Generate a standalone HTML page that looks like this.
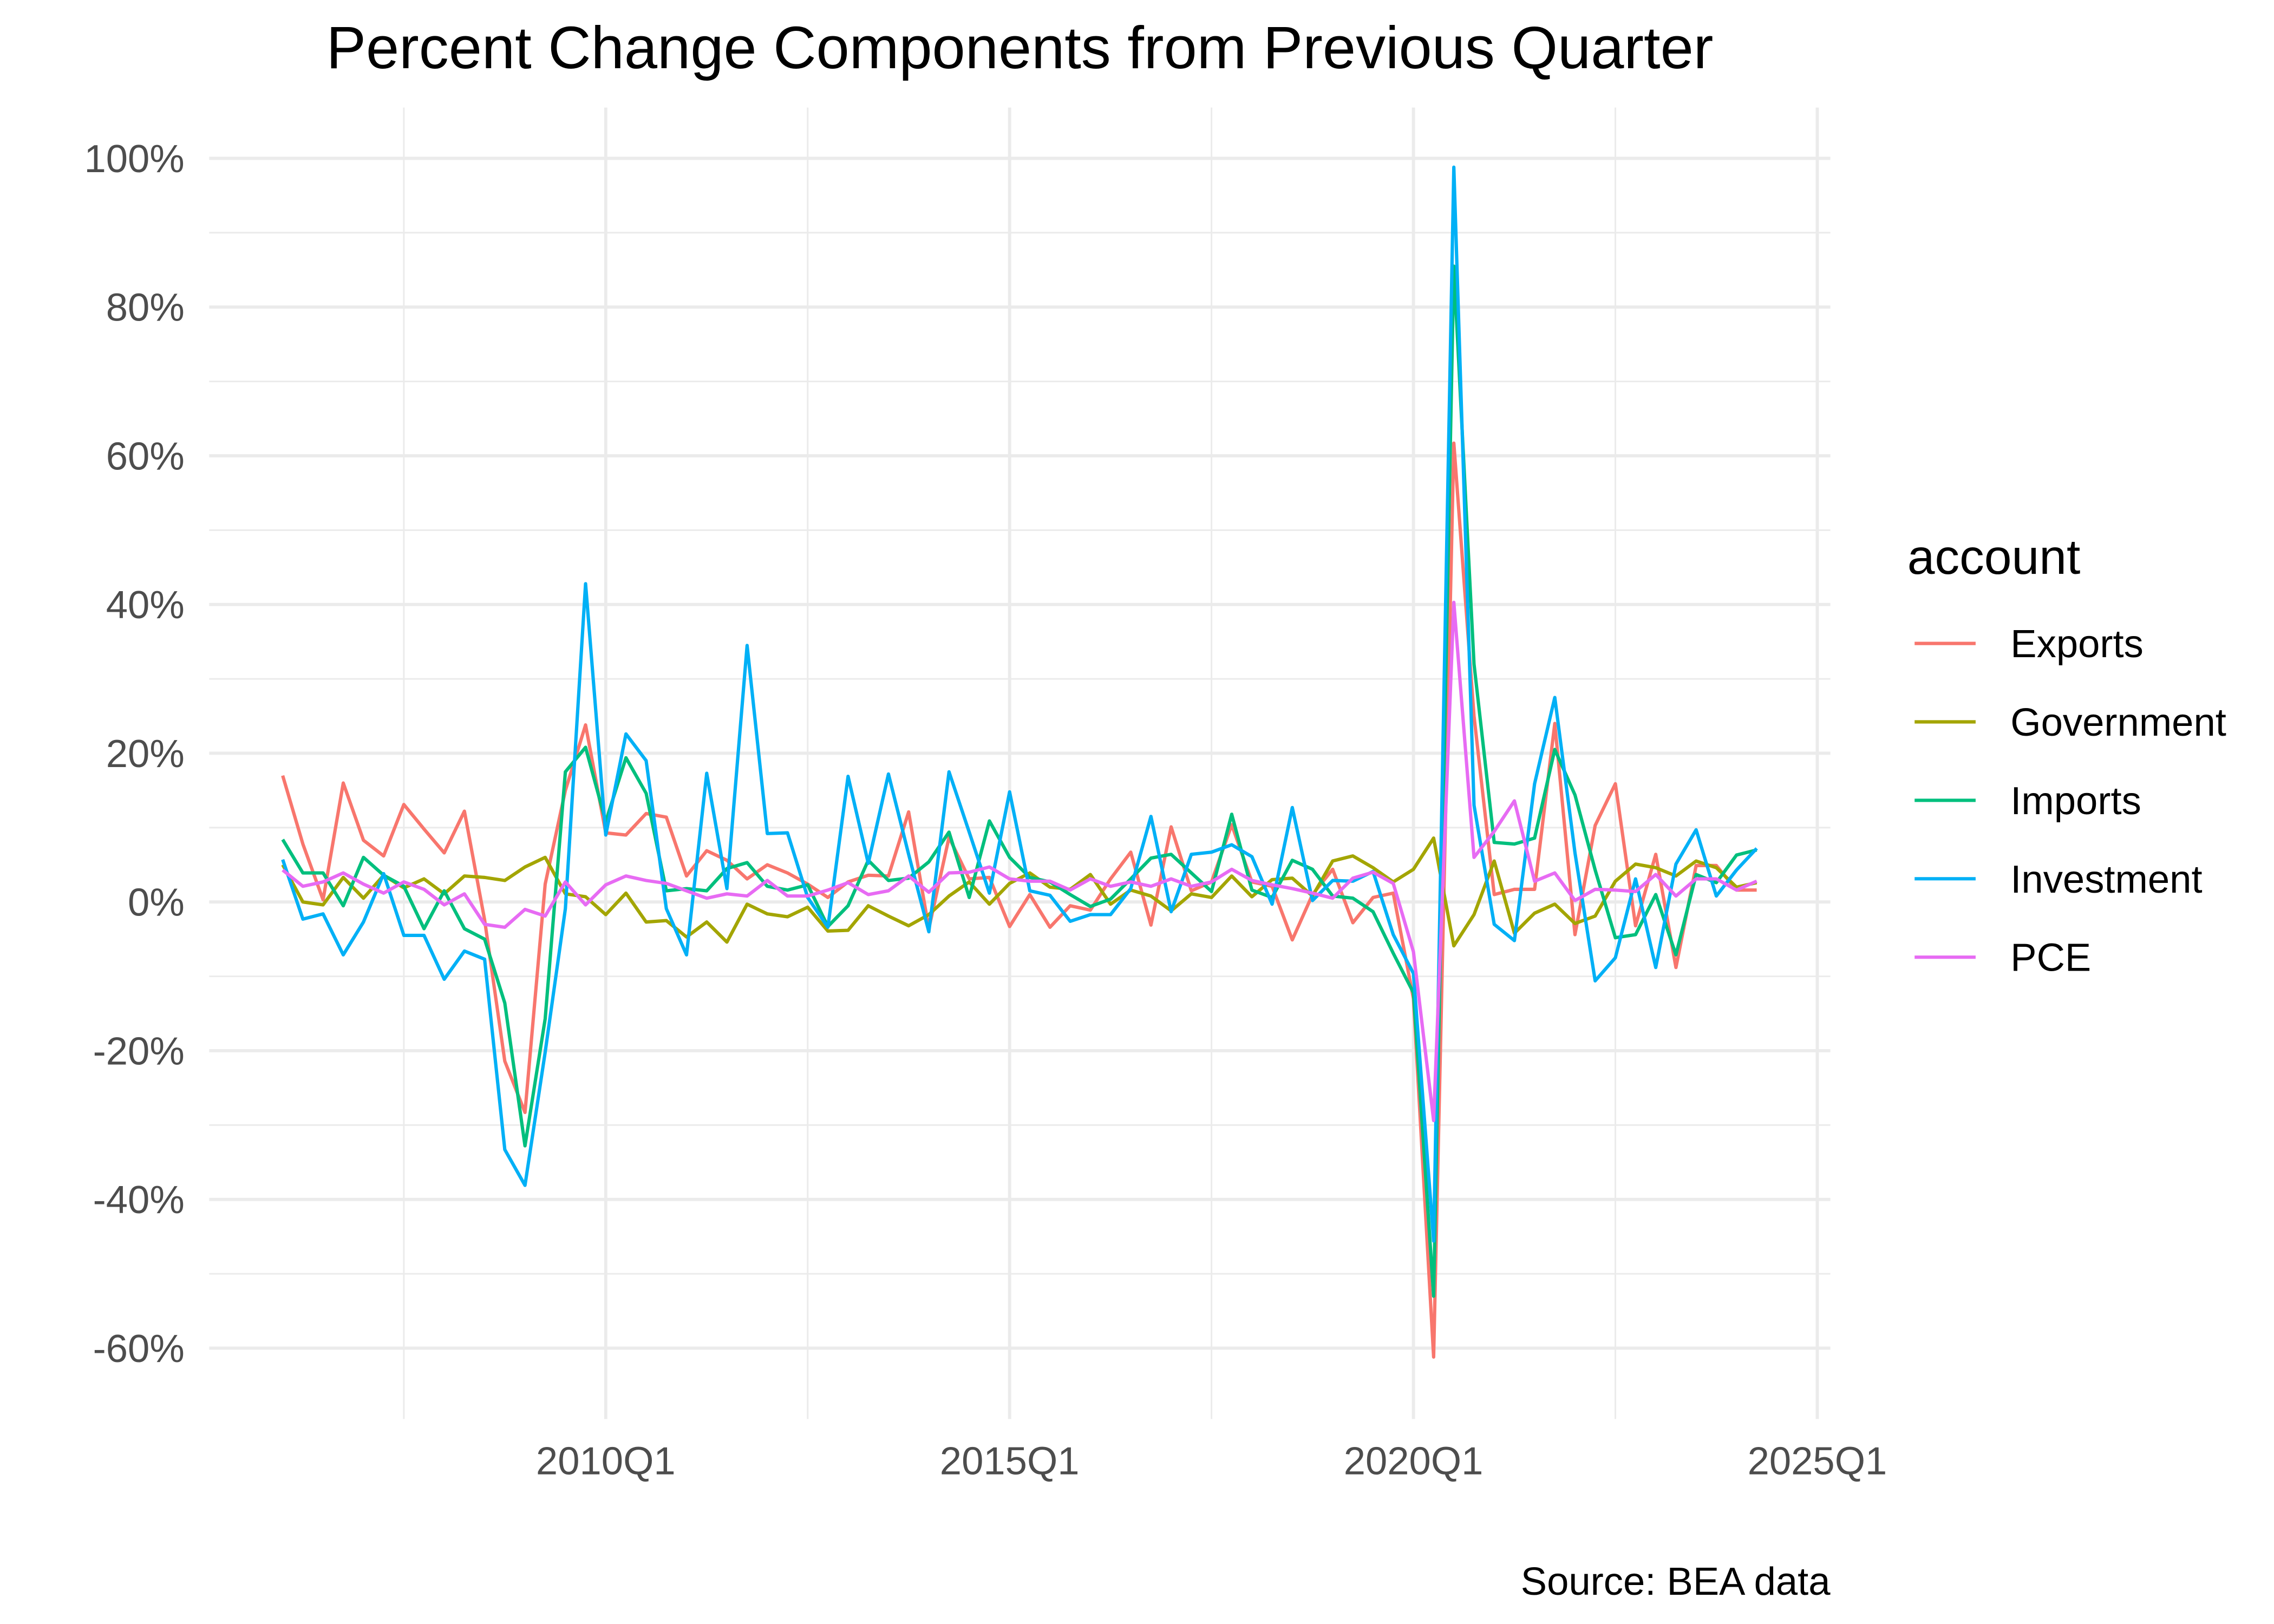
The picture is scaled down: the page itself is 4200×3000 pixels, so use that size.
<!DOCTYPE html>
<html><head><meta charset="utf-8"><style>
html,body{margin:0;padding:0;background:#fff;}
svg{display:block;}
text{font-family:"Liberation Sans",Arial,sans-serif;}
</style></head><body>
<svg id="s" xmlns="http://www.w3.org/2000/svg" width="4200" height="3000" viewBox="0 0 1565.4 1118.1">
<rect width="1565.4" height="1118.1" fill="#fff"/>
<g id="grid"></g>
<g id="lines" fill="none" stroke-width="2.3" stroke-linejoin="round"></g>
<g id="ylab" font-size="27" fill="#4D4D4D" text-anchor="end"></g>
<g font-size="27" fill="#4D4D4D" text-anchor="middle">
<text x="417" y="1015">2010Q1</text>
<text x="695" y="1015">2015Q1</text>
<text x="973" y="1015">2020Q1</text>
<text x="1251" y="1015">2025Q1</text>
</g>
<text x="702" y="47" font-size="41" text-anchor="middle" fill="#000">Percent Change Components from Previous Quarter</text>
<text x="1260" y="1098" font-size="27" text-anchor="end" fill="#000">Source: BEA data</text>
<text x="1313" y="395" font-size="34" fill="#000">account</text>
<g id="leg" font-size="27" fill="#000"></g>
</svg>
<script>
var NS="http://www.w3.org/2000/svg";
function el(p,t,a,txt){var e=document.createElementNS(NS,t);for(var k in a)e.setAttribute(k,a[k]);if(txt!=null)e.textContent=txt;document.getElementById(p).appendChild(e);return e;}
var X0=144,X1=1260,Y0=74,Y1=977;
function yv(v){return 621-5.12*v;}
function xi(i){return 194.6+i*13.9;}
for(var v=-50;v<=90;v+=20){el("grid","line",{x1:X0,x2:X1,y1:yv(v),y2:yv(v),stroke:"#EBEBEB","stroke-width":1.1});}
[278,556,834,1112].forEach(function(x){el("grid","line",{x1:x,x2:x,y1:Y0,y2:Y1,stroke:"#EBEBEB","stroke-width":1.1});});
for(var v=-60;v<=100;v+=20){el("grid","line",{x1:X0,x2:X1,y1:yv(v),y2:yv(v),stroke:"#EBEBEB","stroke-width":2.2});
 el("ylab","text",{x:127,y:yv(v)+9.5},v+"%");}
[417,695,973,1251].forEach(function(x){el("grid","line",{x1:x,x2:x,y1:Y0,y2:Y1,stroke:"#EBEBEB","stroke-width":2.2});});
var S=[
["Exports","#F8766D",[17,7.8,0.3,16,8.3,6.2,13.1,9.8,6.6,12.2,-2.4,-21.4,-28.3,2.4,15,23.8,9.3,9,11.9,11.4,3.5,6.9,5.6,3.1,5,3.9,2.4,0.6,2.7,3.6,3.5,12.1,-3.6,8.7,3.1,3.3,-3.3,1,-3.4,-0.5,-1.1,3.1,6.7,-3.1,10.1,1.5,2.7,10.4,2.7,2.1,-5.1,1,4.4,-2.8,0.6,1.2,-13,-61.2,61.7,25,1,1.7,1.7,24,-4.4,10.3,15.9,-3.2,6.4,-8.8,4.9,4.9,1.6,1.6]],
["Government","#A3A500",[5,0,-0.4,3.3,0.5,3.6,1.9,3.1,1.1,3.5,3.3,2.9,4.7,6,1.1,0.7,-1.7,1.2,-2.7,-2.5,-4.7,-2.7,-5.4,-0.3,-1.6,-2,-0.7,-3.9,-3.8,-0.5,-1.9,-3.2,-1.7,0.8,2.7,-0.3,2.5,3.9,2,1.7,3.7,-0.3,1.6,0.8,-1.2,1.1,0.6,3.5,0.7,3,3.2,0.8,5.5,6.2,4.6,2.7,4.4,8.6,-5.9,-1.7,5.5,-4.2,-1.5,-0.3,-2.9,-1.9,2.8,5.1,4.6,3.5,5.5,4.6,2,2.6]],
["Imports","#00BF7D",[8.4,3.9,3.9,-0.5,6,3.6,2.1,-3.6,1.5,-3.6,-5,-13.6,-32.8,-15.7,17.5,20.8,10.8,19.4,14.6,1.5,1.8,1.5,4.5,5.3,2.1,1.6,2.3,-3.3,-0.5,5.6,2.9,3.2,5.4,9.4,0.6,10.9,6,3.3,2.7,1,-0.6,0.4,3.1,5.9,6.4,3.9,1.4,11.8,1.6,0.6,5.6,4.4,0.8,0.5,-1.3,-6.9,-12.2,-53,85.5,32,8,7.8,8.6,20.5,14.4,4.3,-4.8,-4.4,1,-7.1,3.7,2.6,6.3,7]],
["Investment","#00B0F6",[5.7,-2.3,-1.6,-7.1,-2.7,3.8,-4.5,-4.5,-10.4,-6.6,-7.7,-33.3,-38.1,-20.2,-0.9,42.8,9,22.6,19,-0.9,-7.1,17.3,1.8,34.5,9.2,9.3,0.6,-3.4,16.9,5.2,17.2,6.4,-4,17.5,9.4,1.2,14.8,1.5,0.9,-2.6,-1.7,-1.7,1.8,11.5,-1.3,6.4,6.7,7.7,6.1,-0.3,12.7,0.2,2.9,2.8,4.1,-4.4,-9.6,-45.6,98.8,13,-3,-5.2,15.9,27.5,6.6,-10.6,-7.5,3.1,-8.8,5.1,9.7,0.8,4.3,7.2]],
["PCE","#E76BF3",[4.3,2.1,2.7,3.9,2.4,1.2,2.7,1.7,-0.4,1.1,-3,-3.4,-1,-1.9,2.7,-0.4,2.3,3.5,2.9,2.5,1.5,0.5,1.1,0.8,2.9,0.8,0.8,1.6,2.6,1,1.5,3.5,1.3,3.9,4,4.7,3.1,2.8,2.8,1.6,3.1,2.1,2.7,2.1,3.1,2.1,2.7,4.4,2.9,2.3,1.8,1.2,0.5,3.2,4,2.5,-6.7,-29.4,40.3,6,9.5,13.6,2.8,3.9,0.2,1.7,1.6,1.4,3.7,0.8,3.1,3.1,1.6,2.8]]
];
S.forEach(function(s,k){
 var pts=s[2].map(function(v,i){return xi(i).toFixed(1)+","+yv(v).toFixed(1);}).join(" ");
 el("lines","polyline",{points:pts,stroke:s[1]});
 var y=443+54*k;
 el("leg","line",{x1:1318,x2:1360,y1:y,y2:y,stroke:s[1],"stroke-width":2.3});
 el("leg","text",{x:1384,y:y+9.5},s[0]);
});
</script>
</body></html>
